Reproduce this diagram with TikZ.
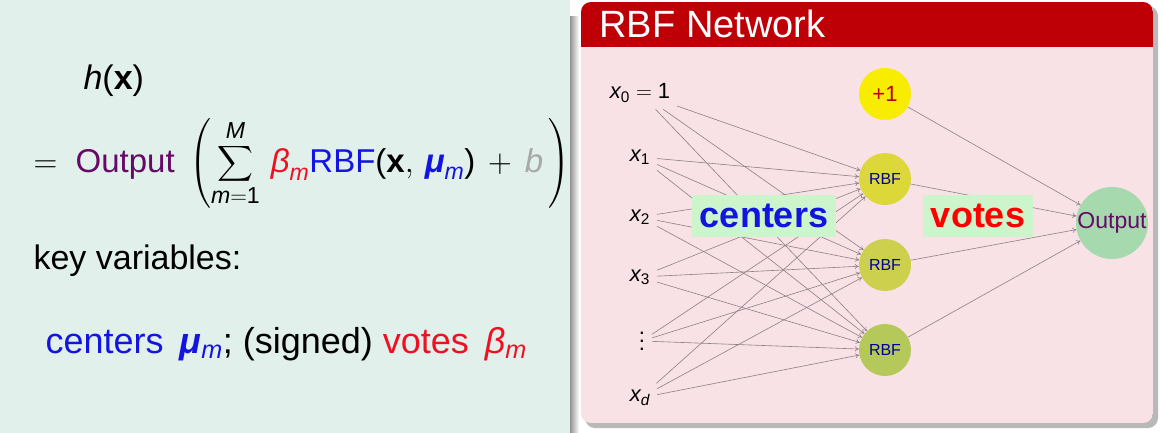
\RequirePackage{fix-cm}
\documentclass[tikz,border=0pt]{standalone}
\usepackage{amsmath}
\usepackage{fontspec}
\setmainfont{Liberation Sans}
\usetikzlibrary{arrows.meta}

\definecolor{leftbg}{HTML}{E1F0EB}
\definecolor{pinkbg}{HTML}{F9E2E6}
\definecolor{titlered}{HTML}{BE0006}
\definecolor{hblue}{HTML}{1414E0}
\definecolor{hred}{HTML}{EE1122}
\definecolor{outpurple}{HTML}{660A66}
\definecolor{bgray}{HTML}{A8A8A8}
\definecolor{edgegray}{HTML}{8A8085}
\definecolor{tagbg}{HTML}{CCF5CC}
\definecolor{onefill}{HTML}{F8EC00}
\definecolor{rbfa}{HTML}{DDD83A}
\definecolor{rbfb}{HTML}{CCD04C}
\definecolor{rbfc}{HTML}{B5C95A}
\definecolor{outfill}{HTML}{A6D9AE}

\newcommand\slidefont{\fontsize{34}{40}\selectfont}
\newcommand\tallvdots{\vbox{\baselineskip=8pt\lineskiplimit=0pt\hbox{.}\hbox{.}\hbox{.}}}

\begin{document}
\begin{tikzpicture}[x=1pt,y=-1pt,
  inp/.style={font=\fontsize{22}{26}\selectfont, inner sep=2pt, outer sep=5pt},
  unit/.style={circle, minimum size=52pt, inner sep=0pt, text=blue!60!black,
    font=\fontsize{16}{18}\selectfont},
  edge/.style={draw=edgegray, line width=0.6pt, -{To[length=4pt,width=5pt]}},
  tag/.style={fill=tagbg, inner xsep=8pt, minimum height=42pt,
    font=\fontsize{36}{40}\selectfont\bfseries}]
\useasboundingbox (0,0) rectangle (1161,433);

% left side of the slide
\fill[white] (0,0) rectangle (1161,433);
\fill[leftbg] (0,0) rectangle (570,433);
\shade[left color=gray!85, right color=white] (570,17) rectangle (579,433);

\node[anchor=base west, font=\slidefont] (hx) at (80,90) {\textit{h}(\textbf{x})};
\node[anchor=base west, font=\fontsize{33}{40}\selectfont] (eq) at (30,172)
  {$\displaystyle=\;\textcolor{outpurple}{\text{Output}}\;\left(\sum_{\textit{m}=\text{1}}^{\textit{M}}\,
   \textcolor{hred}{\textit{β}_{\textit{m}}}\textcolor{hblue}{\text{RBF}}\text{(}\textbf{x},\,
   \textcolor{hblue}{\textbf{\textit{μ}}_{\textit{m}}}\text{)}\,+\,\textcolor{bgray}{\textit{b}}\,\right)$};
\node[anchor=base west, font=\slidefont] (kv) at (30,269) {key variables:};
\node[anchor=base west, font=\fontsize{36}{40}\selectfont] (cv) at (42,353)
  {\textcolor{hblue}{centers\, \textbf{\textit{μ}}\textsubscript{\textit{m}}}; (signed)
   \textcolor{hred}{votes\, \textit{β}\textsubscript{\textit{m}}}};

% the block on the right
\fill[gray!55, rounded corners=10pt] (585,6) rectangle (1158,428);
\begin{scope}
\clip[rounded corners=10pt] (581,2) rectangle (1153,423);
\fill[pinkbg] (581,2) rectangle (1153,423);
\fill[titlered] (581,2) rectangle (1153,47);
\end{scope}
\node[anchor=base west, text=white, font=\fontsize{38}{40}\selectfont] (title) at (596,38) {RBF Network};

% inputs
\node[inp] (x0) at (640,93) {$\textit{x}_{\text{0}}=\text{1}$};
\node[inp] (x1) at (640,157) {$\textit{x}_{\text{1}}$};
\node[inp] (x2) at (640,217) {$\textit{x}_{\text{2}}$};
\node[inp] (x3) at (640,277) {$\textit{x}_{\text{3}}$};
\node[inp] (xv) at (642,341) {\tallvdots};
\node[inp] (xd) at (640,398) {$\textit{x}_{\textit{d}}$};

% hidden units
\node[unit, fill=onefill, text=red!75!black, font=\fontsize{22}{24}\selectfont] (one) at (885,94) {+1};
\node[unit, fill=rbfa] (r1) at (885,179) {RBF};
\node[unit, fill=rbfb] (r2) at (885,265) {RBF};
\node[unit, fill=rbfc] (r3) at (885,350) {RBF};

% output
\node[circle, fill=outfill, minimum size=72pt, inner sep=0pt, text=outpurple,
  font=\fontsize{23}{25}\selectfont] (out) at (1112,223) {Output};

\foreach \i in {x0,x1,x2,x3,xv,xd}
  \foreach \j in {r1,r2,r3}
    \draw[edge] (\i) -- (\j);
\foreach \j in {one,r1,r2,r3}
  \draw[edge] (\j) -- (out);

\node[tag, text=hblue] (centers) at (764,216) {centers};
\node[tag, text=red] (votes) at (978,216) {votes};
\end{tikzpicture}
\end{document}
